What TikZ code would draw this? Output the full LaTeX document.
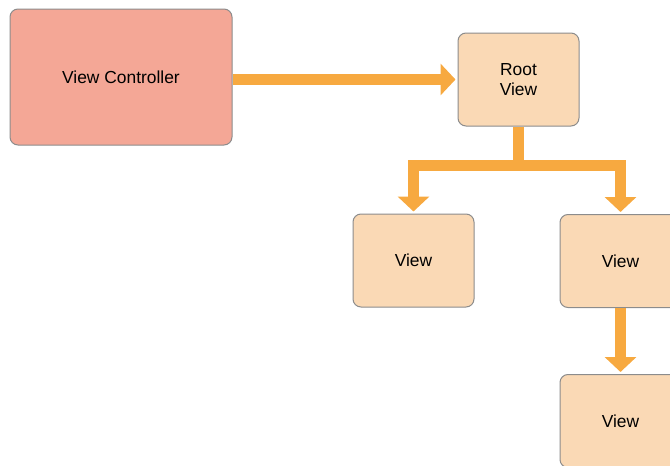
\documentclass[tikz,border=0pt]{standalone}
\usepackage{fontspec}
\setmainfont{Liberation Sans}
\usetikzlibrary{arrows.meta,positioning}

\begin{document}
\begin{tikzpicture}[
  x=1pt, y=-1pt,
  font=\fontsize{17.4}{20}\selectfont,
  ctrl/.style={draw=black!45, line width=1pt, rounded corners=8pt, fill=ctrlfill,
               minimum width=222pt, minimum height=136pt, inner sep=0pt},
  view/.style={draw=black!45, line width=1pt, rounded corners=8pt, fill=viewfill,
               minimum width=121pt, minimum height=93pt, inner sep=0pt, align=center},
  link/.style={draw=linkorange, line width=10.5pt, line join=miter,
               -{Triangle[length=15pt,width=31pt]}, shorten >=2pt}
]
\definecolor{ctrlfill}{HTML}{F4A796}
\definecolor{viewfill}{HTML}{FAD9B5}
\definecolor{linkorange}{HTML}{F7A940}
\clip (0,0) rectangle (670,466);
% --- nodes ---
\node[ctrl] (vc) at (121,77) {View Controller};
\node[view] (root) at (518.5,79.5) {Root\\View};
\node[view] (left) at (413.5,260.5) {View};
\node[view] (right) at (620.5,261) {View};
\node[view, below=66pt of right] (bottom) {View};
% --- arrows ---
\draw[link] (root.west -| vc.east) -- (root.west);
\draw[link] (root.south) -- ++(0,39) -| (left.north);
\draw[link] (root.south) -- ++(0,39) -| (right.north);
\draw[link] (right) -- (bottom);
\end{tikzpicture}
\end{document}
